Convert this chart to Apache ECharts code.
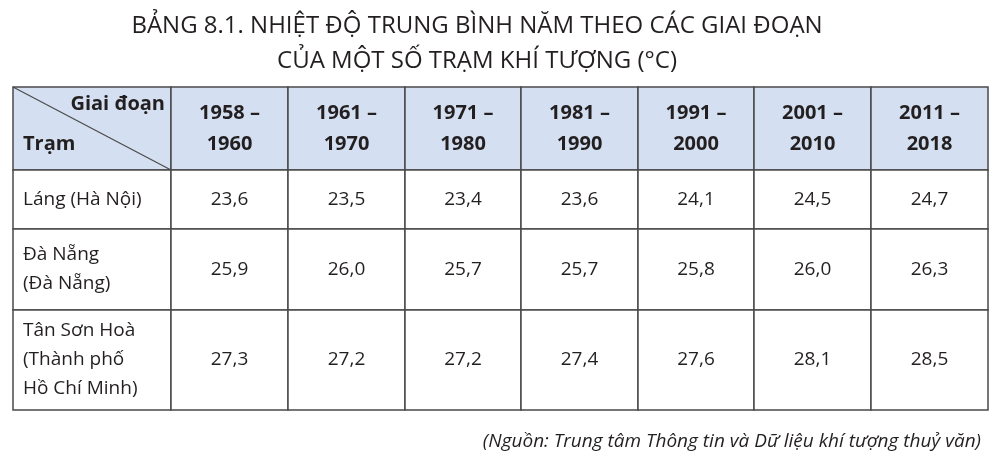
<!DOCTYPE html>
<html><head><meta charset="utf-8">
<script src="https://cdn.jsdelivr.net/npm/echarts@6/dist/echarts.min.js"></script>
<style>html,body{margin:0;padding:0;background:#fff}#c{width:996px;height:466px}</style>
</head><body><div id="c"></div>
<script>
const titleLines = ['BẢNG 8.1. NHIỆT ĐỘ TRUNG BÌNH NĂM THEO CÁC GIAI ĐOẠN', 'CỦA MỘT SỐ TRẠM KHÍ TƯỢNG (°C)'];
const periods = ['1958 –\n1960','1961 –\n1970','1971 –\n1980','1981 –\n1990','1991 –\n2000','2001 –\n2010','2011 –\n2018'];
const stations = ['Láng (Hà Nội)','Đà Nẵng\n(Đà Nẵng)','Tân Sơn Hoà\n(Thành phố\nHồ Chí Minh)'];
const lang = [23.6,23.5,23.4,23.6,24.1,24.5,24.7];
const daNang = [25.9,26.0,25.7,25.7,25.8,26.0,26.3];
const tanSonHoa = [27.3,27.2,27.2,27.4,27.6,28.1,28.5];
const source = '(Nguồn: Trung tâm Thông tin và Dữ liệu khí tượng thuỷ văn)';

const values = [lang, daNang, tanSonHoa];
const colEdges = [13,171,288,405,521,638,754,871,988];
const rowEdges = [87,170,229,310,410];
const fmt = v => v.toFixed(1).replace('.', ',');

const cells = [];
cells.push({r:0,c:0,text:'',header:true,corner:true});
periods.forEach((p,i)=>cells.push({r:0,c:i+1,text:p,header:true}));
stations.forEach((s,r)=>{
  cells.push({r:r+1,c:0,text:s,left:true});
  values[r].forEach((v,i)=>cells.push({r:r+1,c:i+1,text:fmt(v)}));
});
const data = cells.map((d,i)=>[colEdges[d.c],rowEdges[d.r],colEdges[d.c+1],rowEdges[d.r+1],i]);
const FONT = '"Open Sans", "Noto Sans", sans-serif';
const TXT = '#231f20';

const chart = echarts.init(document.getElementById('c'));
chart.setOption({
  animation:false,
  title:[{text:titleLines.join('\n'),left:472,top:4,textAlign:'center',
    textStyle:{fontFamily:FONT,fontWeight:'normal',fontSize:24,color:TXT,lineHeight:35}},
    {text:source,right:10,top:427,textStyle:{fontFamily:FONT,fontStyle:'italic',fontWeight:'normal',fontSize:19,color:TXT}}],
  grid:{left:0,right:0,top:0,bottom:0},
  xAxis:{type:'value',min:0,max:996,show:false},
  yAxis:{type:'value',min:0,max:466,inverse:true,show:false},
  series:[{type:'custom',coordinateSystem:'cartesian2d',data,
    renderItem:(params,api)=>{
      const p1=api.coord([api.value(0),api.value(1)]), p2=api.coord([api.value(2),api.value(3)]);
      const d=cells[api.value(4)];
      const w=p2[0]-p1[0], h=p2[1]-p1[1];
      const children=[{type:'rect',shape:{x:p1[0],y:p1[1],width:w,height:h},
        style:{fill:d.header?'#d4e0f1':'#fff',stroke:'#4a4a4a',lineWidth:1.5}}];
      if(d.corner){
        children.push({type:'line',shape:{x1:p1[0],y1:p1[1],x2:p2[0],y2:p2[1]},style:{stroke:'#4a4a4a',lineWidth:1.2}});
        children.push({type:'text',style:{text:'Giai đoạn',x:p2[0]-6,y:p1[1]+17,align:'right',verticalAlign:'middle',font:'bold 20px '+FONT,fill:TXT}});
        children.push({type:'text',style:{text:'Trạm',x:p1[0]+10,y:p2[1]-26,align:'left',verticalAlign:'middle',font:'bold 20px '+FONT,fill:TXT}});
      } else if(d.left){
        children.push({type:'text',style:{text:d.text,x:p1[0]+10,y:(p1[1]+p2[1])/2,align:'left',verticalAlign:'middle',font:'19px '+FONT,fill:TXT,lineHeight:29}});
      } else {
        children.push({type:'text',style:{text:d.text,x:(p1[0]+p2[0])/2,y:(p1[1]+p2[1])/2,align:'center',verticalAlign:'middle',
          font:(d.header?'bold 20px ':'19px ')+FONT,fill:TXT,lineHeight:d.header?31:24}});
      }
      return {type:'group',children};
    }}]
});
</script></body></html>
